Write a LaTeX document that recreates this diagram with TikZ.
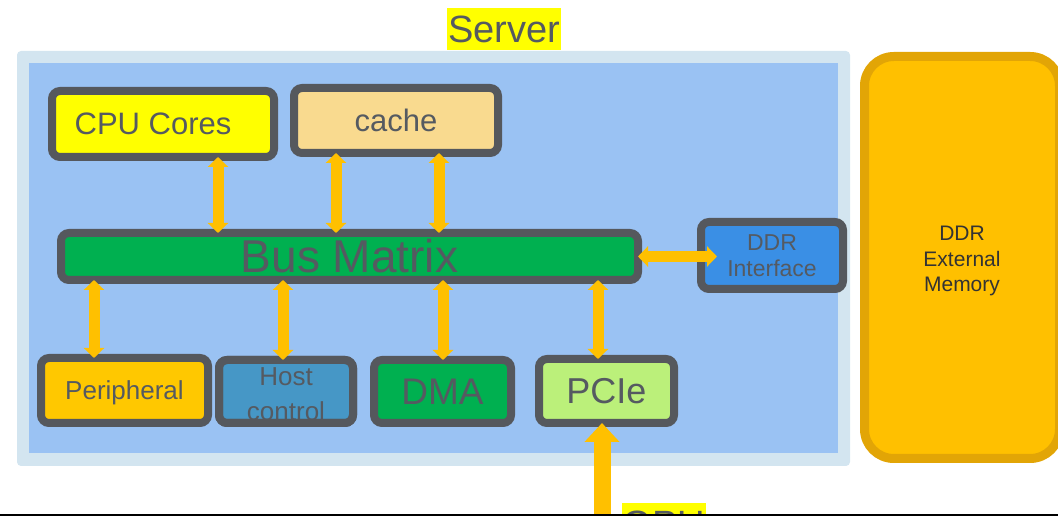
\documentclass[tikz,border=0pt]{standalone}
\usepackage{fontspec}
\setmainfont{Liberation Sans}
\usetikzlibrary{arrows.meta,calc}

\definecolor{frameGray}{HTML}{55585D}
\definecolor{textGray}{HTML}{555A61}
\definecolor{memText}{HTML}{333333}
\definecolor{serverOuter}{HTML}{D3E5F0}
\definecolor{serverInner}{HTML}{9AC2F3}
\definecolor{hiYellow}{HTML}{FFFF00}
\definecolor{cacheTan}{HTML}{F9DA8F}
\definecolor{busGreen}{HTML}{00B050}
\definecolor{ddrBlue}{HTML}{3A8FE5}
\definecolor{periYellow}{HTML}{FFC800}
\definecolor{hostBlue}{HTML}{4697C6}
\definecolor{pcieGreen}{HTML}{BBF07A}
\definecolor{linkOrange}{HTML}{FFC000}
\definecolor{memBorder}{HTML}{E2A506}

\newcommand{\fs}[2]{\fontsize{#1}{#2}\selectfont}

\begin{document}
\begin{tikzpicture}[x=0.75pt,y=-0.75pt,
  unitbox/.style={draw=frameGray, line width=6pt, rounded corners=6pt,
    outer sep=0pt, inner sep=0pt, text=textGray},
  tag/.style={fill=hiYellow, inner sep=0pt, minimum height=31.5pt,
    text=textGray, font=\fs{28.5pt}{34pt}},
  link/.style={draw=linkOrange, line width=8.25pt,
    {Triangle[width=15pt,length=7.5pt]}-{Triangle[width=15pt,length=7.5pt]}},
  feed/.style={draw=linkOrange, line width=12.75pt,
    -{Triangle[width=25.5pt,length=14.25pt]}}]

\useasboundingbox (0,0) rectangle (1058,516);
\clip (0,0) rectangle (1058,516);

% server enclosure
\fill[serverOuter, rounded corners=3pt] (17,51) rectangle (850,466);
\fill[serverInner] (29,63) rectangle (838,453);
\node[tag, minimum width=85.5pt] (server) at (504,29) {Server};

% blocks inside the server
\node[unitbox, fill=hiYellow, minimum width=166.5pt, minimum height=49.5pt,
  font=\fs{23.25pt}{28pt}] (cpu) at (163,124) {CPU Cores\hspace*{15pt}};
\node[unitbox, fill=cacheTan, minimum width=153pt, minimum height=48.75pt,
  font=\fs{23.25pt}{28pt}] (cache) at (396,120.5) {cache};
\node[unitbox, fill=busGreen, minimum width=432.75pt, minimum height=35.25pt,
  font=\fs{34.5pt}{40pt}] (bus) at (349.5,256.5) {\raisebox{-3.75pt}{Bus Matrix}};
\node[unitbox, fill=ddrBlue, minimum width=106.5pt, minimum height=50.25pt,
  align=center, font=\fs{17.25pt}{19.5pt}] (ddrif) at (772,255.5) {DDR\\Interface};
\node[unitbox, fill=periYellow, minimum width=125.25pt, minimum height=48.75pt,
  text depth=0pt, font=\fs{19.5pt}{24pt}] (per) at (124.5,390.5) {Peripheral};
\node[unitbox, fill=hostBlue, minimum width=100.5pt, minimum height=47.25pt]
  (host) at (286,391.5) {};
\node[unitbox, fill=busGreen, minimum width=102.75pt, minimum height=47.25pt,
  font=\fs{27.75pt}{33pt}] (dma) at (442.5,391.5) {DMA};
\node[unitbox, fill=pcieGreen, minimum width=101.25pt, minimum height=48pt,
  font=\fs{27pt}{32pt}] (pcie) at (606.5,391) {PCIe};

% host control text runs under the lower frame edge
\node[anchor=base, inner sep=0pt, text=textGray, font=\fs{19.5pt}{24pt}]
  (hostA) at (286,386) {Host};
\node[anchor=base, inner sep=0pt, text=textGray, font=\fs{19.5pt}{24pt}]
  (hostB) at (286,421) {control};
\draw[draw=frameGray, line width=6pt, rounded corners=6pt]
  (host.south west) rectangle (host.north east);

% external memory
\node[draw=memBorder, fill=linkOrange, line width=6.75pt, rounded corners=22pt,
  outer sep=0pt, minimum width=146.25pt, minimum height=301.5pt]
  (ddrmem) at (962,257.5) {};
\node[align=center, inner sep=0pt, text=memText, font=\fs{15.75pt}{19pt}]
  (memtext) at ($(ddrmem.center)+(0,3.5)$) {DDR\\External\\Memory};

% bus links
\coordinate (xa) at ($(cpu.south)+(55,0)$);
\coordinate (xb) at ($(cache.south)+(-60,0)$);
\coordinate (xc) at ($(cache.south)+(43,0)$);
\coordinate (xd) at ($(per.north)+(-30.5,0)$);
\coordinate (xe) at ($(host.north)+(-3,0)$);
\coordinate (xf) at ($(dma.north)+(0.5,0)$);
\coordinate (xg) at ($(pcie.north)+(-8.5,0)$);
\coordinate (xh) at ($(ddrif.west)+(16,0)$);

\draw[link] (xa) -- (xa |- bus.north);
\draw[link] (xb) -- (xb |- bus.north);
\draw[link] (xc) -- (xc |- bus.north);
\draw[link] (xd |- bus.south) -- (xd);
\draw[link] (xe |- bus.south) -- (xe);
\draw[link] (xf |- bus.south) -- (xf);
\draw[link] (xg |- bus.south) -- (xg);
\draw[link] (bus.east) -- (bus.east -| xh);

% GPU feed into PCIe
\coordinate (gpubase) at ($(pcie.south)+(-4.5,110)$);
\draw[feed] (gpubase) -- (gpubase |- pcie.south);
\node[tag, minimum width=63pt] (gpu) at (664,524) {GPU};

% bottom rule
\draw[line width=1.3pt] (0,515.2) -- (1058,515.2);
\end{tikzpicture}
\end{document}
